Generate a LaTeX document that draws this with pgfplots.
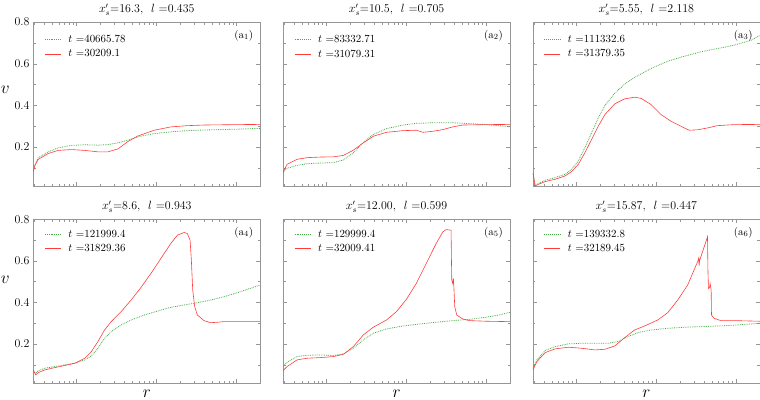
\documentclass[border=0pt,11pt]{standalone}
\usepackage{pgfplots}
\pgfplotsset{compat=1.18}
\usepgfplotslibrary{groupplots}

\definecolor{cgreen}{RGB}{70,170,70}
\definecolor{cred}{RGB}{255,60,60}
\definecolor{cframe}{RGB}{150,150,150}

% x is log10(r); log minor ticks set by hand
\pgfplotsset{
  panel/.style={
    width=228pt, height=165pt, scale only axis,
    xmin=0.462, xmax=3.298, ymin=0.01, ymax=0.8,
    xtick={1,2,3}, xticklabels={},
    minor xtick={0.477,0.602,0.699,0.778,0.845,0.903,0.954,
                 1.301,1.477,1.602,1.699,1.778,1.845,1.903,1.954,
                 2.301,2.477,2.602,2.699,2.778,2.845,2.903,2.954},
    ytick={0.2,0.4,0.6,0.8}, minor ytick={0.1,0.3,0.5,0.7},
    major tick length=4pt, minor tick length=2.5pt,
    axis line style={cframe}, tick style={cframe},
    tick label style={font=\large},
    title style={yshift=-3pt, font=\large},
    legend style={draw=none, fill=none, at={(0.035,0.955)}, anchor=north west,
                  font=\normalsize, row sep=3.5pt, column sep=2pt,
                  nodes={inner xsep=5pt, inner ysep=1pt}},
    legend cell align=left,
  },
  top/.style={legend style={at={(0.035,0.94)}}},
  gl/.style={color=cgreen, densely dotted, line width=0.8pt,
    legend image code/.code={\draw[color=cgreen, densely dotted, line width=0.9pt] (0pt,0pt) -- (16pt,0pt);}},
  rl/.style={color=cred, line width=0.6pt,
    legend image code/.code={\draw[color=cred, line width=0.7pt] (0pt,0pt) -- (16pt,0pt);}},
  vlab/.style={ylabel={$v$}, ylabel style={rotate=-90, anchor=east, inner sep=1pt,
               font=\fontsize{18}{20}\selectfont, at={(ticklabel cs:#1)}}},
  rlab/.style={xlabel={$r$}, xlabel style={font=\fontsize{18}{20}\selectfont, inner sep=2pt, yshift=3pt}},
}

\begin{document}
\begin{tikzpicture}
\begin{groupplot}[group style={group size=3 by 2, horizontal sep=23pt, vertical sep=33pt}, panel]

% (a1)
\nextgroupplot[title={$x'_s$=16.3,\ \ $l$ =0.435}, vlab=0.59, top]
\addplot[gl] coordinates {(0.462,0.080)(0.48,0.11)(0.524,0.148)(0.648,0.176)(0.773,0.195)(0.938,0.207)(1.104,0.210)(1.269,0.208)(1.394,0.211)(1.518,0.219)(1.642,0.232)(1.766,0.248)(1.973,0.264)(2.180,0.272)(2.387,0.278)(2.594,0.281)(3.009,0.285)(3.298,0.289)};
\addlegendentry{$t$ =40665.78}
\addplot[rl] coordinates {(0.462,0.080)(0.48,0.11)(0.524,0.140)(0.648,0.168)(0.773,0.183)(0.938,0.187)(1.104,0.183)(1.269,0.176)(1.394,0.176)(1.518,0.190)(1.642,0.225)(1.766,0.252)(1.973,0.280)(2.180,0.296)(2.387,0.302)(2.594,0.305)(3.009,0.307)(3.298,0.308)};
\addlegendentry{$t$ =30209.1}
\node[anchor=north east] at (rel axis cs:0.985,0.975) {(a$_1$)};

% (a2)
\nextgroupplot[title={$x'_s$=10.5,\ \ $l$ =0.705}, yticklabels={}, top]
\addplot[gl] coordinates {(0.462,0.076)(0.512,0.097)(0.636,0.111)(0.760,0.119)(0.926,0.122)(1.091,0.124)(1.216,0.137)(1.340,0.171)(1.464,0.222)(1.588,0.259)(1.754,0.288)(1.961,0.305)(2.127,0.313)(2.334,0.316)(2.582,0.316)(2.789,0.312)(2.996,0.307)(3.298,0.297)};
\addlegendentry{$t$ =83332.71}
\addplot[rl] coordinates {(0.462,0.080)(0.512,0.116)(0.636,0.140)(0.760,0.148)(0.926,0.151)(1.091,0.152)(1.216,0.159)(1.340,0.184)(1.464,0.219)(1.588,0.251)(1.754,0.270)(1.961,0.278)(2.127,0.280)(2.209,0.270)(2.334,0.275)(2.458,0.283)(2.582,0.296)(2.706,0.305)(2.996,0.307)(3.298,0.308)};
\addlegendentry{$t$ =31079.31}
\node[anchor=north east] at (rel axis cs:0.985,0.975) {(a$_2$)};

% (a3)
\nextgroupplot[title={$x'_s$=5.55,\ \ $l$ =2.118}, yticklabels={}, top]
\addplot[gl] coordinates {(0.462,0.076)(0.491,0.012)(0.532,0.025)(0.615,0.039)(0.739,0.052)(0.864,0.068)(0.946,0.092)(1.029,0.132)(1.112,0.196)(1.195,0.267)(1.278,0.339)(1.361,0.398)(1.485,0.458)(1.609,0.502)(1.733,0.534)(1.940,0.577)(2.147,0.612)(2.354,0.636)(2.561,0.657)(2.768,0.673)(2.975,0.689)(3.183,0.712)(3.298,0.736)};
\addlegendentry{$t$ =111332.6}
\addplot[rl] coordinates {(0.462,0.076)(0.491,0.012)(0.532,0.020)(0.615,0.033)(0.739,0.044)(0.864,0.060)(0.946,0.081)(1.029,0.116)(1.112,0.172)(1.195,0.235)(1.278,0.299)(1.361,0.355)(1.485,0.407)(1.609,0.431)(1.733,0.439)(1.816,0.433)(1.940,0.403)(2.065,0.355)(2.189,0.323)(2.354,0.291)(2.416,0.280)(2.520,0.282)(2.644,0.291)(2.768,0.302)(2.975,0.307)(3.298,0.308)};
\addlegendentry{$t$ =31379.35}
\node[anchor=north east] at (rel axis cs:0.985,0.975) {(a$_3$)};

% (a4)
\nextgroupplot[title={$x'_s$=8.6,\ \ $l$ =0.943}, vlab=0.63, rlab]
\addplot[gl] coordinates {(0.462,0.067)(0.491,0.058)(0.524,0.070)(0.607,0.083)(0.731,0.091)(0.855,0.099)(0.980,0.107)(1.104,0.123)(1.187,0.142)(1.269,0.179)(1.352,0.227)(1.435,0.259)(1.559,0.291)(1.684,0.315)(1.850,0.339)(2.015,0.358)(2.180,0.376)(2.346,0.387)(2.512,0.398)(2.677,0.411)(2.843,0.427)(3.009,0.446)(3.174,0.467)(3.298,0.483)};
\addlegendentry{$t$ =121999.4}
\addplot[rl] coordinates {(0.462,0.075)(0.491,0.051)(0.524,0.062)(0.607,0.075)(0.731,0.086)(0.855,0.096)(0.980,0.107)(1.104,0.131)(1.187,0.163)(1.269,0.211)(1.352,0.267)(1.435,0.307)(1.559,0.355)(1.684,0.411)(1.808,0.472)(1.932,0.539)(2.056,0.611)(2.180,0.683)(2.263,0.723)(2.346,0.736)(2.387,0.731)(2.421,0.699)(2.437,0.603)(2.454,0.459)(2.479,0.379)(2.512,0.339)(2.595,0.312)(2.677,0.302)(2.760,0.304)(2.843,0.307)(3.009,0.307)(3.298,0.307)};
\addlegendentry{$t$ =31829.36}
\node[anchor=north east] at (rel axis cs:0.985,0.975) {(a$_4$)};

% (a5)
\nextgroupplot[title={$x'_s$=12.00,\ \ $l$ =0.599}, yticklabels={}, rlab]
\addplot[gl] coordinates {(0.462,0.091)(0.512,0.112)(0.636,0.139)(0.760,0.145)(0.926,0.147)(1.091,0.144)(1.216,0.152)(1.340,0.179)(1.464,0.219)(1.588,0.251)(1.754,0.272)(1.961,0.286)(2.168,0.296)(2.375,0.304)(2.582,0.312)(2.789,0.318)(2.996,0.328)(3.162,0.339)(3.298,0.352)};
\addlegendentry{$t$ =129999.4}
\addplot[rl] coordinates {(0.462,0.072)(0.512,0.091)(0.636,0.123)(0.760,0.131)(0.926,0.134)(1.091,0.139)(1.216,0.150)(1.340,0.187)(1.464,0.243)(1.588,0.280)(1.754,0.315)(1.878,0.355)(2.002,0.414)(2.127,0.491)(2.251,0.587)(2.375,0.683)(2.458,0.739)(2.499,0.750)(2.561,0.747)(2.566,0.600)(2.570,0.507)(2.582,0.491)(2.590,0.515)(2.594,0.490)(2.599,0.450)(2.607,0.379)(2.632,0.339)(2.706,0.320)(2.789,0.312)(2.996,0.309)(3.298,0.307)};
\addlegendentry{$t$ =32009.41}
\node[anchor=north east] at (rel axis cs:0.985,0.975) {(a$_5$)};

% (a6)
\nextgroupplot[title={$x'_s$=15.87,\ \ $l$ =0.447}, yticklabels={}, rlab]
\addplot[gl] coordinates {(0.462,0.083)(0.512,0.123)(0.615,0.168)(0.739,0.187)(0.905,0.200)(1.071,0.203)(1.236,0.203)(1.402,0.203)(1.526,0.211)(1.650,0.235)(1.775,0.254)(1.940,0.267)(2.147,0.275)(2.354,0.280)(2.561,0.283)(2.768,0.286)(2.975,0.290)(3.298,0.299)};
\addlegendentry{$t$ =139332.8}
\addplot[rl] coordinates {(0.462,0.075)(0.512,0.115)(0.615,0.158)(0.739,0.176)(0.905,0.184)(1.071,0.179)(1.236,0.171)(1.361,0.174)(1.485,0.190)(1.609,0.230)(1.733,0.267)(1.857,0.286)(2.023,0.315)(2.147,0.350)(2.272,0.411)(2.396,0.483)(2.520,0.595)(2.537,0.615)(2.539,0.575)(2.545,0.600)(2.644,0.715)(2.650,0.550)(2.656,0.467)(2.670,0.470)(2.677,0.490)(2.685,0.470)(2.690,0.460)(2.694,0.339)(2.727,0.323)(2.810,0.312)(2.975,0.312)(3.298,0.309)};
\addlegendentry{$t$ =32189.45}
\node[anchor=north east] at (rel axis cs:0.985,0.975) {(a$_6$)};

\end{groupplot}
\end{tikzpicture}
\end{document}
